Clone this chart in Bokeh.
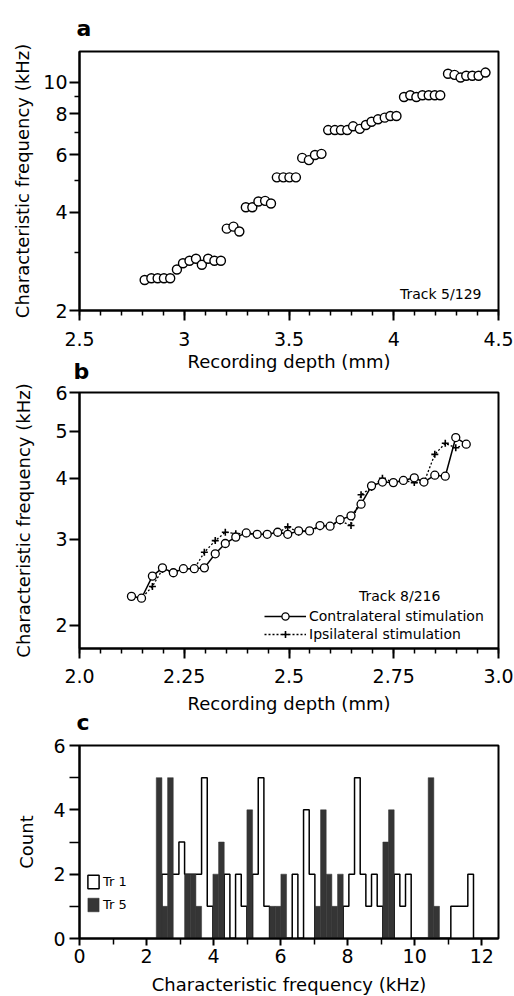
import numpy as np
from bokeh.plotting import figure
from bokeh.models import FixedTicker, Label, Legend, LegendItem, Range1d
from bokeh.layouts import column
from bokeh.embed import file_html
from bokeh.resources import INLINE

FONT = "DejaVu Sans"

# ---------------- Panel a : Track 5/129 ----------------
a_depth = [2.811, 2.843, 2.873, 2.903, 2.933, 2.965, 2.994, 3.025, 3.056, 3.084,
           3.114, 3.144, 3.175, 3.203, 3.235, 3.263, 3.294, 3.325, 3.354, 3.386,
           3.414, 3.442, 3.473, 3.502, 3.533, 3.563, 3.595, 3.624, 3.655, 3.687,
           3.719, 3.748, 3.778, 3.806, 3.838, 3.867, 3.894, 3.925, 3.957, 3.984,
           4.013, 4.049, 4.079, 4.108, 4.137, 4.167, 4.196, 4.222, 4.259, 4.290,
           4.319, 4.346, 4.375, 4.405, 4.438]
a_cf = [2.48, 2.51, 2.51, 2.51, 2.51, 2.67, 2.79, 2.84, 2.88, 2.76,
        2.88, 2.84, 2.84, 3.56, 3.61, 3.49, 4.14, 4.14, 4.31, 4.33,
        4.25, 5.11, 5.11, 5.11, 5.11, 5.86, 5.77, 5.98, 6.03, 7.13,
        7.13, 7.13, 7.13, 7.32, 7.19, 7.39, 7.56, 7.69, 7.78, 7.87,
        7.87, 9.00, 9.11, 9.00, 9.11, 9.11, 9.11, 9.11, 10.60, 10.52,
        10.32, 10.45, 10.45, 10.45, 10.69]
a_xticks = [2.5, 3, 3.5, 4, 4.5]
a_xlabels = ["2.5", "3", "3.5", "4", "4.5"]
a_yticks = [2, 4, 6, 8, 10]
a_yminor = [3, 5, 7, 9]

# ---------------- Panel b : Track 8/216 ----------------
b_depth = [2.124, 2.148, 2.174, 2.198, 2.224, 2.248, 2.274, 2.298, 2.324, 2.348,
           2.373, 2.398, 2.424, 2.448, 2.473, 2.497, 2.523, 2.549, 2.574, 2.598,
           2.622, 2.648, 2.672, 2.697, 2.723, 2.749, 2.773, 2.799, 2.822, 2.848,
           2.873, 2.898, 2.923]
b_contra = [2.29, 2.27, 2.52, 2.62, 2.56, 2.61, 2.61, 2.62, 2.80, 2.94,
            3.03, 3.09, 3.07, 3.07, 3.10, 3.07, 3.12, 3.12, 3.20, 3.19,
            3.29, 3.35, 3.54, 3.86, 3.93, 3.92, 3.96, 4.01, 3.93, 4.06,
            4.04, 4.85, 4.70]
b_ipsi = [2.29, 2.27, 2.40, 2.60, 2.57, 2.61, 2.61, 2.82, 2.98, 3.10,
          3.08, 3.08, 3.07, 3.07, 3.09, 3.18, 3.10, 3.12, 3.18, 3.19,
          3.27, 3.20, 3.70, 3.83, 4.00, 3.93, 3.96, 3.92, 3.92, 4.48,
          4.72, 4.62, 4.70]
b_xticks = [2.0, 2.25, 2.5, 2.75, 3.0]
b_xlabels = ["2.0", "2.25", "2.5", "2.75", "3.0"]
b_yticks = [2, 3, 4, 5, 6]

# ---------------- Panel c : CF histogram ----------------
c_bin_start = 2.29
c_bin_width = 0.169
c_tr1 = [0, 2, 2, 2, 3, 2, 2, 2, 5, 1,
         0, 0, 2, 0, 2, 1, 0, 2, 5, 1,
         0, 0, 0, 0, 2, 0, 4, 2, 0, 0,
         0, 0, 0, 1, 2, 5, 2, 1, 2, 1,
         0, 0, 2, 1, 2, 0, 0, 0, 0, 0,
         0, 0, 1, 1, 1, 2]
c_tr5 = [5, 1, 5, 0, 0, 2, 2, 1, 0, 0,
         2, 3, 0, 0, 0, 0, 4, 0, 0, 0,
         1, 1, 2, 0, 0, 0, 0, 0, 1, 4,
         2, 1, 2, 0, 0, 0, 0, 0, 0, 0,
         3, 4, 0, 0, 0, 0, 0, 0, 5, 1,
         0, 0, 0, 0, 0, 0]
c_xticks = [0, 2, 4, 6, 8, 10, 12]
c_xminor = [1, 3, 5, 7, 9, 11]
c_yticks = [0, 2, 4, 6]
c_yminor = [1, 3, 5]


def style(p, xtick_out=10, xminor_out=5, ytick_out=10, yminor_out=5):
    p.outline_line_color = "black"
    p.outline_line_width = 2
    p.outline_line_alpha = 1
    p.grid.visible = False
    p.background_fill_color = "white"
    p.border_fill_color = None
    for ax in p.axis:
        ax.axis_line_width = 2
        ax.axis_line_color = "black"
        ax.major_tick_line_width = 2
        ax.minor_tick_line_width = 1.5
        ax.major_tick_in = 0
        ax.minor_tick_in = 0
        ax.major_label_text_font = FONT
        ax.major_label_text_font_size = "19px"
        ax.major_label_text_color = "black"
        ax.axis_label_text_font = FONT
        ax.axis_label_text_font_size = "18px"
        ax.axis_label_text_font_style = "normal"
        ax.axis_label_text_color = "black"
    p.xaxis.major_tick_out = xtick_out
    p.xaxis.minor_tick_out = xminor_out
    p.yaxis.major_tick_out = ytick_out
    p.yaxis.minor_tick_out = yminor_out


def panel_title(p, text, offset, standoff):
    p.title.text = text
    p.title.align = "left"
    p.title.offset = offset
    p.title.standoff = standoff
    p.title.text_font = FONT
    p.title.text_font_style = "bold"
    p.title.text_font_size = "22px"
    p.title.text_color = "black"


# ---------------- figure a ----------------
pa = figure(width=514, height=378, y_axis_type="log",
            x_range=Range1d(2.5, 4.5), y_range=Range1d(2, 12.4),
            output_backend="svg", toolbar_location=None,
            min_border_left=79, min_border_right=15, min_border_top=51, min_border_bottom=68)
style(pa)
pa.xaxis.ticker = FixedTicker(ticks=a_xticks,
                              minor_ticks=[round(2.5 + 0.1 * i, 2) for i in range(21)])
pa.xaxis.major_label_overrides = dict(zip(a_xticks, a_xlabels))
pa.yaxis.ticker = FixedTicker(ticks=a_yticks, minor_ticks=a_yminor)
pa.yaxis.major_label_overrides = {t: str(t) for t in a_yticks}
pa.xaxis.axis_label = "Recording depth (mm)"
pa.yaxis.axis_label = "Characteristic frequency (kHz)"
pa.xaxis.major_label_standoff = 11
pa.xaxis.axis_label_standoff = 2
pa.yaxis.major_label_standoff = 2
pa.yaxis.axis_label_standoff = 7
pa.scatter(a_depth, a_cf, marker="circle", size=9, fill_color="white",
           line_color="black", line_width=1.4)
pa.add_layout(Label(x=4.03, y=2.25, text="Track 5/129", text_font=FONT,
                    text_font_size="14px", text_baseline="middle", text_color="black"))
panel_title(pa, "a", -3, 21)

# ---------------- figure b ----------------
pb = figure(width=514, height=372, y_axis_type="log",
            x_range=Range1d(2.0, 3.0), y_range=Range1d(1.79, 6.0),
            output_backend="svg", toolbar_location=None, margin=(-30, 0, 0, 0),
            min_border_left=78, min_border_right=16, min_border_top=43, min_border_bottom=72)
style(pb, ytick_out=10, yminor_out=0)
pb.xaxis.ticker = FixedTicker(ticks=b_xticks,
                              minor_ticks=[round(2.0 + 0.05 * i, 2) for i in range(21)])
pb.xaxis.major_label_overrides = dict(zip(b_xticks, b_xlabels))
pb.yaxis.ticker = FixedTicker(ticks=b_yticks, minor_ticks=[])
pb.yaxis.major_label_overrides = {t: str(t) for t in b_yticks}
pb.xaxis.axis_label = "Recording depth (mm)"
pb.yaxis.axis_label = "Characteristic frequency (kHz)"
pb.xaxis.major_label_standoff = 10
pb.xaxis.axis_label_standoff = 7
pb.yaxis.major_label_standoff = 2
pb.yaxis.axis_label_standoff = 18
li = pb.line(b_depth, b_ipsi, line_color="black", line_width=1.3, line_dash="2 2")
si = pb.scatter(b_depth, b_ipsi, marker="cross", size=7, line_color="black", line_width=1.6)
lc = pb.line(b_depth, b_contra, line_color="black", line_width=1.5)
sc = pb.scatter(b_depth, b_contra, marker="circle", size=8, fill_color="white",
                line_color="black", line_width=1.3)
leg_b = Legend(items=[LegendItem(label="Contralateral stimulation", renderers=[lc, sc]),
                      LegendItem(label="Ipsilateral stimulation", renderers=[li, si])],
               location=(185, 5), padding=0, margin=0, spacing=0,
               glyph_width=42, glyph_height=18, label_height=18, label_standoff=3,
               label_text_font=FONT, label_text_font_size="14px", label_text_color="black",
               background_fill_alpha=0, border_line_alpha=0)
pb.add_layout(leg_b)
pb.add_layout(Label(x=2.667, y=2.29, text="Track 8/216", text_font=FONT,
                    text_font_size="14px", text_baseline="middle", text_color="black"))
panel_title(pb, "b", -6, 17)

# ---------------- figure c ----------------
edges = c_bin_start + c_bin_width * np.arange(len(c_tr1) + 1)
wx, wy = [edges[0]], [0]
for i, c in enumerate(c_tr1):
    wx += [edges[i], edges[i + 1]]
    wy += [c, c]
wx.append(edges[-1])
wy.append(0)
dk = [i for i, c in enumerate(c_tr5) if c > 0]

pc = figure(width=514, height=302, x_range=Range1d(0, 12.5), y_range=Range1d(0, 6),
            output_backend="svg", toolbar_location=None, margin=(-23, 0, 0, 0),
            min_border_left=79, min_border_right=14, min_border_top=47, min_border_bottom=61)
style(pc, xtick_out=7, xminor_out=6, ytick_out=10, yminor_out=10)
pc.xaxis.ticker = FixedTicker(ticks=c_xticks, minor_ticks=c_xminor)
pc.yaxis.ticker = FixedTicker(ticks=c_yticks, minor_ticks=c_yminor)
pc.xaxis.axis_label = "Characteristic frequency (kHz)"
pc.yaxis.axis_label = "Count"
pc.xaxis.major_label_standoff = 3
pc.xaxis.axis_label_standoff = 8
pc.yaxis.major_label_standoff = 4
pc.yaxis.axis_label_standoff = 13
w = pc.patch(wx, wy, fill_color="white", line_color="black", line_width=1.5)
d = pc.quad(left=[edges[i] for i in dk], right=[edges[i + 1] for i in dk],
            bottom=0, top=[c_tr5[i] for i in dk],
            fill_color="#353535", line_color="#353535", line_width=0.5)
leg_c = Legend(items=[LegendItem(label="Tr 1", renderers=[w]),
                      LegendItem(label="Tr 5", renderers=[d])],
               location=(7, 25), padding=0, margin=0, spacing=6,
               glyph_width=14, glyph_height=17, label_height=17, label_standoff=3,
               label_text_font=FONT, label_text_font_size="13px", label_text_color="black",
               background_fill_alpha=0, border_line_alpha=0)
pc.add_layout(leg_c)
panel_title(pc, "c", -3, 21)

layout = column(pa, pb, pc, spacing=0)
open("out.html", "w").write(file_html(layout, INLINE))
